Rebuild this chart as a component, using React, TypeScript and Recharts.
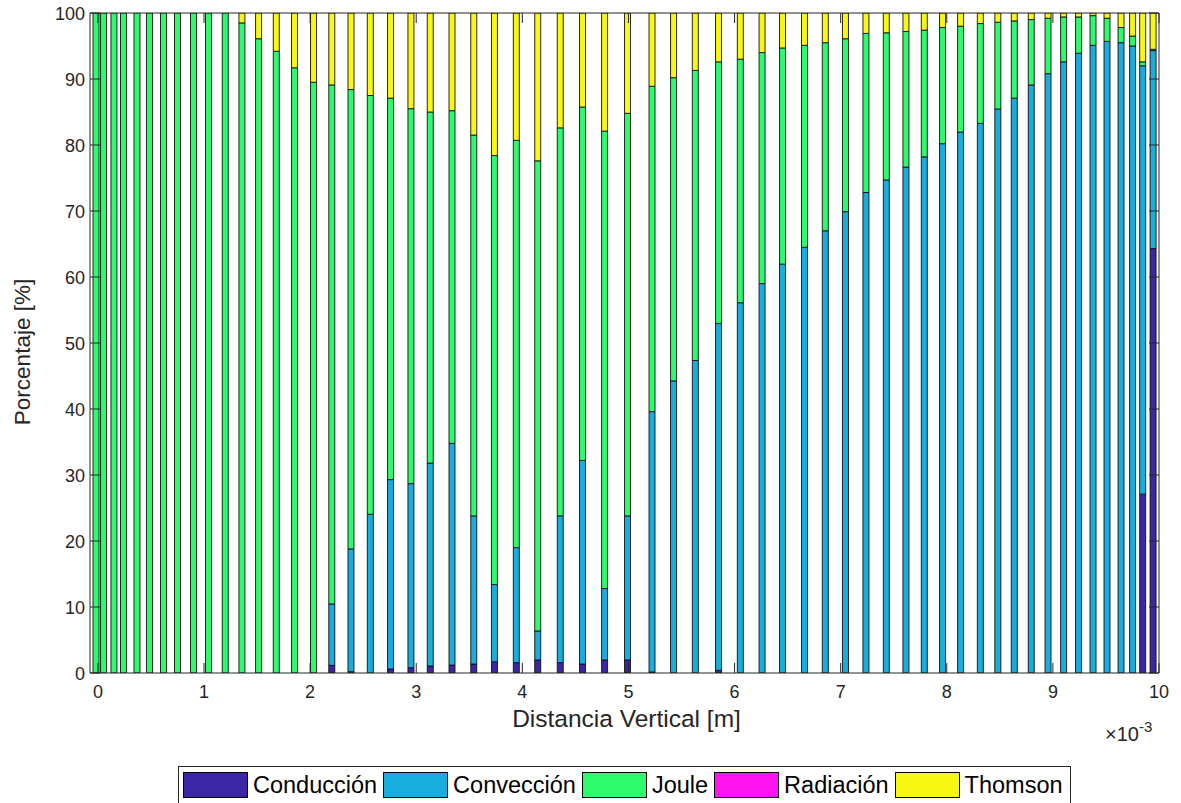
import React from 'react';
import { BarChart, Bar, XAxis, YAxis, ReferenceLine } from 'recharts';

// Distancia vertical (x 10^-3 m)
const positions = [
  -0.02, 0.051, 0.149, 0.239, 0.366, 0.484, 0.616, 0.748, 0.899, 1.04,
  1.198, 1.355, 1.512, 1.679, 1.851, 2.03, 2.202, 2.383, 2.565, 2.756,
  2.948, 3.13, 3.335, 3.54, 3.735, 3.941, 4.143, 4.355, 4.565, 4.773,
  4.989, 5.22, 5.423, 5.628, 5.847, 6.052, 6.257, 6.45, 6.657, 6.853,
  7.043, 7.236, 7.428, 7.613, 7.786, 7.958, 8.128, 8.314, 8.479, 8.634,
  8.794, 8.952, 9.099, 9.24, 9.376, 9.508, 9.64, 9.749, 9.844, 9.942,
];

const conduccion = [
  0, 0, 0, 0, 0, 0, 0, 0, 0, 0,
  0, 0, 0, 0, 0, 0, 1.16, 0.2, 0, 0.6,
  0.8, 1.06, 1.2, 1.36, 1.7, 1.57, 1.97, 1.57, 1.36, 1.97,
  1.97, 0.15, 0, 0, 0.4, 0, 0, 0, 0, 0,
  0, 0, 0, 0, 0, 0, 0, 0, 0, 0,
  0, 0, 0, 0, 0, 0, 0, 0, 27.1, 64.3,
];

const conveccion = [
  0, 0, 0, 0, 0, 0, 0, 0, 0, 0,
  0, 0, 0, 0, 0, 0, 9.3, 18.6, 24.05, 28.7,
  27.9, 30.74, 33.6, 22.44, 11.7, 17.43, 4.4, 22.23, 30.84, 10.83,
  21.83, 39.45, 44.26, 47.35, 52.56, 56.1, 59.0, 61.95, 64.5, 67.0,
  69.9, 72.8, 74.7, 76.65, 78.2, 80.2, 81.96, 83.27, 85.45, 87.1,
  89.1, 90.8, 92.6, 93.9, 95.1, 95.7, 95.5, 95.0, 64.9, 30.0,
];

const joule = [
  100, 100, 100, 100, 100, 100, 100, 100, 100, 100,
  100, 98.5, 96.1, 94.2, 91.7, 89.5, 78.64, 69.6, 63.45, 57.8,
  56.8, 53.2, 50.4, 57.7, 65.0, 61.7, 71.23, 58.8, 53.55, 69.3,
  61.0, 49.3, 45.94, 43.95, 39.64, 36.9, 35.0, 32.75, 30.6, 28.5,
  26.2, 24.1, 22.3, 20.55, 19.2, 17.6, 16.04, 15.13, 13.15, 11.7,
  9.9, 8.4, 6.8, 5.5, 4.5, 3.5, 2.3, 1.5, 0.6, 0.2,
];

const radiacion = [
  0, 0, 0, 0, 0, 0, 0, 0, 0, 0,
  0, 0, 0, 0, 0, 0, 0, 0, 0, 0,
  0, 0, 0, 0, 0, 0, 0, 0, 0, 0,
  0, 0, 0, 0, 0, 0, 0, 0, 0, 0,
  0, 0, 0, 0, 0, 0, 0, 0, 0, 0,
  0, 0, 0, 0, 0, 0, 0, 0, 0, 0,
];

const thomson = [
  0, 0, 0, 0, 0, 0, 0, 0, 0, 0,
  0, 1.5, 3.9, 5.8, 8.3, 10.5, 10.9, 11.6, 12.5, 12.9,
  14.5, 15.0, 14.8, 18.5, 21.6, 19.3, 22.4, 17.4, 14.25, 17.9,
  15.2, 11.1, 9.8, 8.7, 7.4, 7.0, 6.0, 5.3, 4.9, 4.5,
  3.9, 3.1, 3.0, 2.8, 2.6, 2.2, 2.0, 1.6, 1.4, 1.2,
  1.0, 0.8, 0.6, 0.6, 0.4, 0.8, 2.2, 3.5, 7.4, 5.5,
];

const xTicks = [0, 1, 2, 3, 4, 5, 6, 7, 8, 9, 10];
const yTicks = [0, 10, 20, 30, 40, 50, 60, 70, 80, 90, 100];

const seriesNames = ['Conducción', 'Convección', 'Joule', 'Radiación', 'Thomson'];
const seriesColors = ['#3B27A6', '#19ADDE', '#2EFB6B', '#FF14EF', '#F7F712'];
const seriesValues = [conduccion, conveccion, joule, radiacion, thomson];

const data = positions.map((x, i) => {
  const row: Record<string, number> = { x };
  seriesNames.forEach((n, k) => {
    row[n] = seriesValues[k][i];
  });
  return row;
});

const FONT = '"Liberation Sans", Arial, Helvetica, sans-serif';
const AX = '#262626';
const W = 1181;
const H = 815;
const PL = 90;
const PR = 1159;
const PT = 13;
const PB = 673;
const XMIN = -0.0745;
const XMAX = 10.0;

const XTick = (props: any) => {
  const { x, payload } = props;
  return (
    <g>
      <line x1={x} x2={x} y1={PB} y2={PB - 10} stroke={AX} strokeWidth={1} />
      <line x1={x} x2={x} y1={PT} y2={PT + 10} stroke={AX} strokeWidth={1} />
      <text x={x} y={PB + 25} textAnchor="middle" fontSize={18} fontFamily={FONT} fill={AX}>
        {payload.value}
      </text>
    </g>
  );
};

const YTick = (props: any) => {
  const { y, payload } = props;
  return (
    <g>
      <line x1={PL} x2={PL + 10} y1={y} y2={y} stroke={AX} strokeWidth={1} />
      <line x1={PR} x2={PR - 10} y1={y} y2={y} stroke={AX} strokeWidth={1} />
      <text x={PL - 5} y={y + 6.5} textAnchor="end" fontSize={18} fontFamily={FONT} fill={AX}>
        {payload.value}
      </text>
    </g>
  );
};

export default function App() {
  return (
    <div style={{ position: 'absolute', left: 0, top: 0, width: W, height: H, background: '#fff', overflow: 'hidden', fontFamily: FONT }}>
      <BarChart
        width={W}
        height={H}
        data={data}
        margin={{ top: PT, right: W - PR, bottom: H - PB - 40, left: PL - 60 }}
        barGap={0}
      >
        <XAxis
          dataKey="x"
          type="number"
          domain={[XMIN, XMAX]}
          ticks={xTicks}
          interval={0}
          allowDataOverflow
          height={40}
          axisLine={false}
          tickLine={false}
          tick={<XTick />}
        />
        <YAxis
          type="number"
          domain={[0, 100]}
          ticks={yTicks}
          interval={0}
          allowDataOverflow
          width={60}
          axisLine={false}
          tickLine={false}
          tick={<YTick />}
        />
        {seriesNames.map((n, k) => (
          <Bar
            key={n}
            dataKey={n}
            stackId="s"
            fill={seriesColors[k]}
            stroke="#111"
            strokeWidth={0.9}
            barSize={6}
            isAnimationActive={false}
          />
        ))}
        <ReferenceLine x={XMIN} stroke={AX} strokeWidth={1} ifOverflow="visible" />
        <ReferenceLine x={XMAX} stroke={AX} strokeWidth={1} ifOverflow="visible" />
        <ReferenceLine y={0} stroke={AX} strokeWidth={1} ifOverflow="visible" />
        <ReferenceLine y={100} stroke={AX} strokeWidth={1} ifOverflow="visible" />
      </BarChart>

      <svg width={W} height={H} style={{ position: 'absolute', left: 0, top: 0, pointerEvents: 'none' }}>
        <text x={(PL + PR) / 2 + 2} y={727} textAnchor="middle" fontSize={24.5} fontFamily={FONT} fill={AX}>
          Distancia Vertical [m]
        </text>
        <text
          x={0}
          y={0}
          transform={`translate(30, 352) rotate(-90)`}
          textAnchor="middle"
          fontSize={22.5}
          fontFamily={FONT}
          fill={AX}
        >
          Porcentaje [%]
        </text>
        <text x={1105} y={741} fontSize={20} fontFamily={FONT} fill={AX}>
          ×10
          <tspan dy={-9} fontSize={15}>-3</tspan>
        </text>
      </svg>

      <div
        style={{
          position: 'absolute',
          left: 178,
          top: 766,
          width: 893,
          height: 50,
          boxSizing: 'border-box',
          border: `1px solid ${AX}`,
          display: 'flex',
          alignItems: 'flex-start',
          paddingTop: 5,
          paddingLeft: 4,
        }}
      >
        {seriesNames.map((n, k) => (
          <div key={n} style={{ display: 'flex', alignItems: 'center', marginRight: 6 }}>
            <div
              style={{
                width: 65,
                height: 26,
                background: seriesColors[k],
                border: '1px solid #000',
                boxSizing: 'border-box',
                marginRight: 5,
              }}
            />
            <span style={{ fontSize: 23.5, color: '#000', fontFamily: FONT, lineHeight: '26px' }}>{n}</span>
          </div>
        ))}
      </div>
    </div>
  );
}
